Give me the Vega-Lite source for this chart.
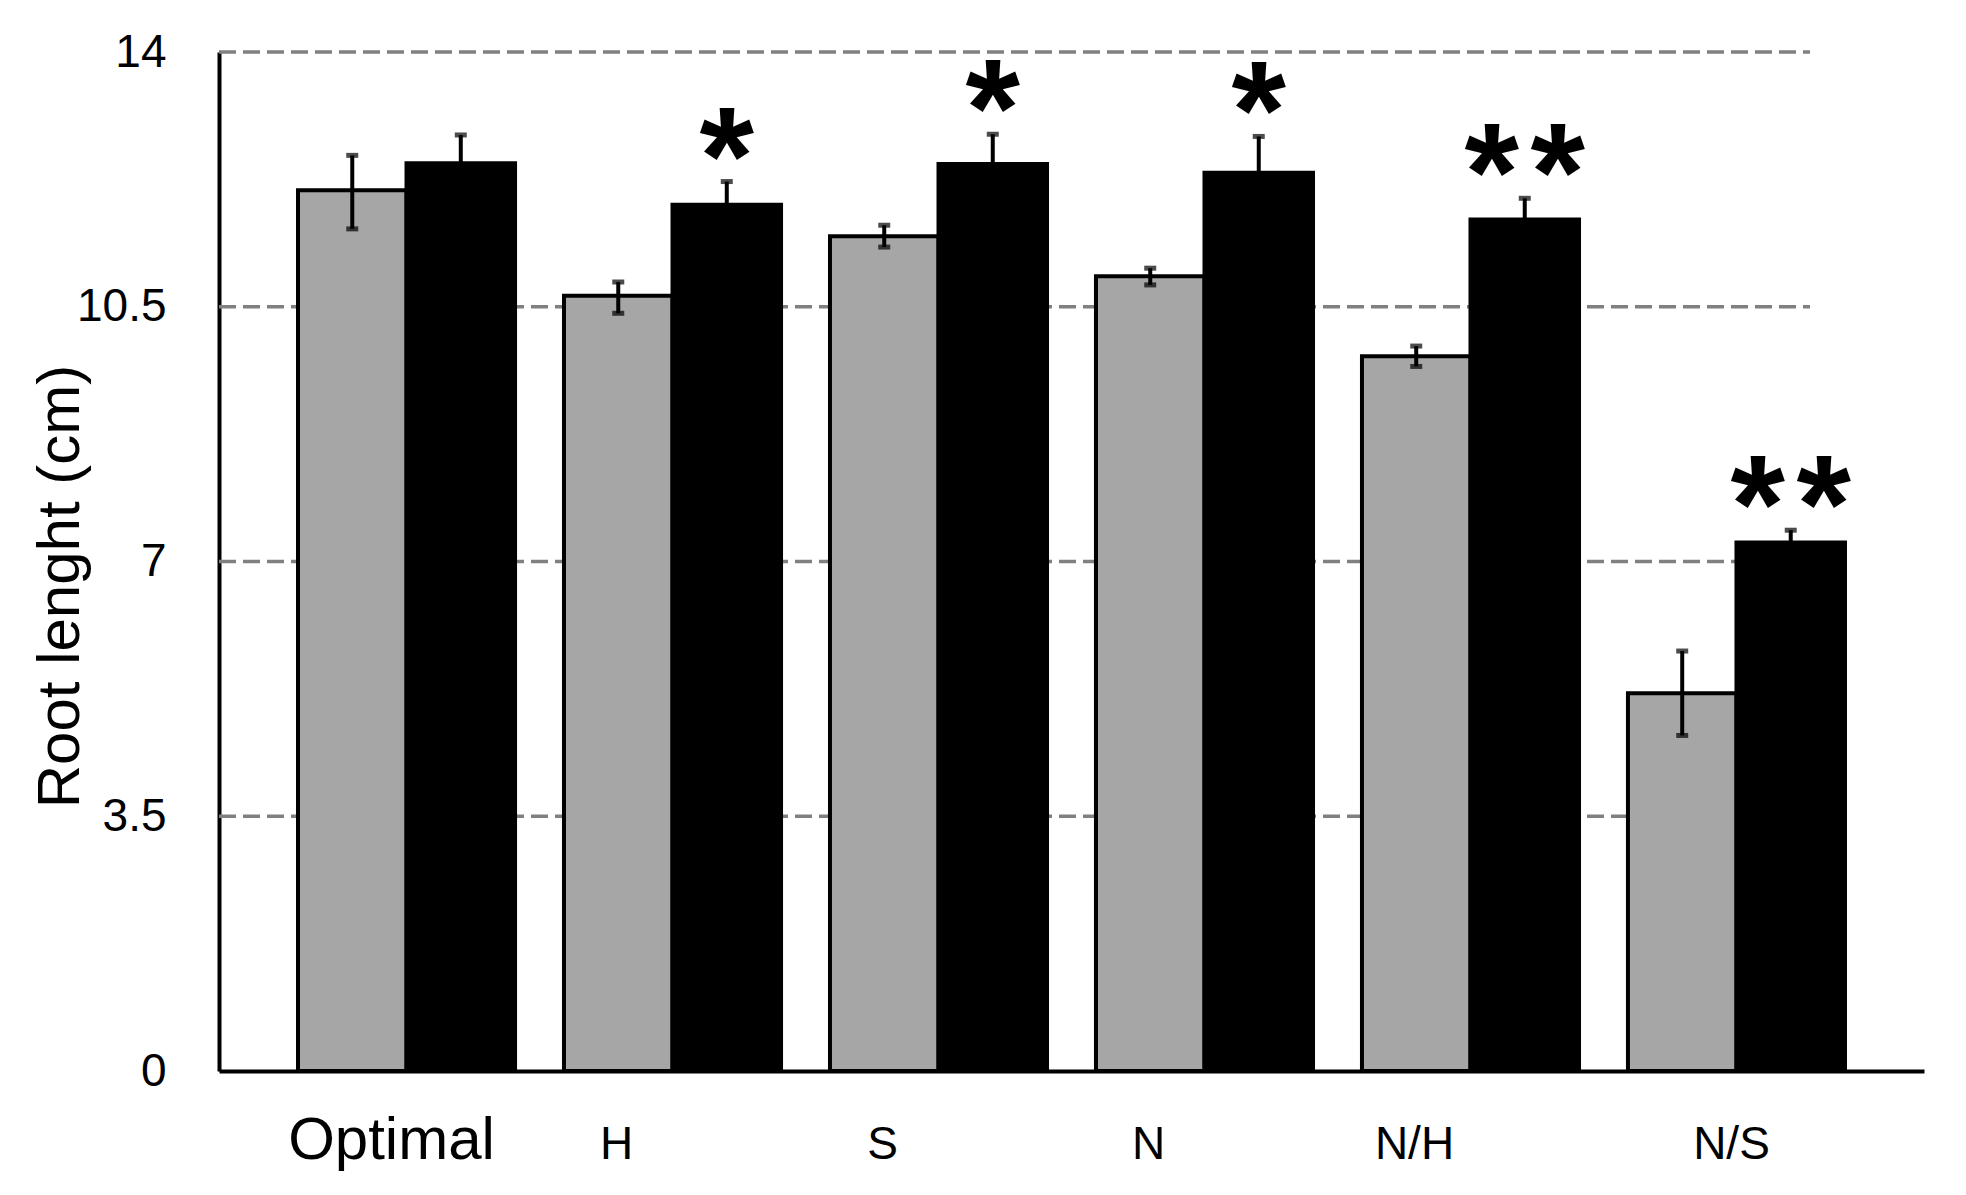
{
  "$schema": "https://vega.github.io/schema/vega-lite/v6.json",
  "autosize": "none",
  "width": 1705,
  "height": 1019,
  "padding": {"left": 219, "top": 52, "right": 42, "bottom": 124},
  "background": "white",
  "config": {"view": {"stroke": null}, "font": "Liberation Sans"},
  "data": {"values": [
    {"group": "Optimal", "series": "a", "value": 12.1, "lo": 11.57, "hi": 12.58, "sig": ""},
    {"group": "Optimal", "series": "b", "value": 12.47, "lo": 12.08, "hi": 12.86, "sig": ""},
    {"group": "H", "series": "a", "value": 10.65, "lo": 10.41, "hi": 10.84, "sig": ""},
    {"group": "H", "series": "b", "value": 11.9, "lo": 11.6, "hi": 12.22, "sig": "*"},
    {"group": "S", "series": "a", "value": 11.47, "lo": 11.32, "hi": 11.62, "sig": ""},
    {"group": "S", "series": "b", "value": 12.46, "lo": 12.05, "hi": 12.87, "sig": "*"},
    {"group": "N", "series": "a", "value": 10.92, "lo": 10.8, "hi": 11.03, "sig": ""},
    {"group": "N", "series": "b", "value": 12.34, "lo": 11.84, "hi": 12.84, "sig": "*"},
    {"group": "N/H", "series": "a", "value": 9.82, "lo": 9.68, "hi": 9.96, "sig": ""},
    {"group": "N/H", "series": "b", "value": 11.7, "lo": 11.41, "hi": 11.99, "sig": "*\u200a*"},
    {"group": "N/S", "series": "a", "value": 5.19, "lo": 4.61, "hi": 5.77, "sig": ""},
    {"group": "N/S", "series": "b", "value": 7.26, "lo": 7.09, "hi": 7.43, "sig": "*\u200a*"}
  ]},
  "encoding": {
    "x": {
      "field": "group", "type": "nominal",
      "scale": {"domain": ["Optimal", "H", "S", "N", "N/H", "N/S"], "paddingInner": 0.184, "paddingOuter": 0.297},
      "axis": {
        "title": null, "labelAngle": 0, "ticks": false, "tickSize": 0,
        "domainColor": "black", "domainWidth": 4, "labelLimit": 0,
        "labelColor": "black", "labelFont": "Liberation Sans",
        "labelBaseline": "alphabetic", "labelPadding": 87,
        "labelFontSize": {"condition": {"test": "datum.value === 'Optimal'", "value": 60}, "value": 46},
        "labelOffset": {"condition": [
          {"test": "datum.value === 'Optimal'", "value": -15},
          {"test": "datum.value === 'N/S'", "value": -5}
        ], "value": -56}
      }
    }
  },
  "layer": [
    {
      "data": {"values": [{"g": 3.5}, {"g": 7}, {"g": 10.5}, {"g": 14}]},
      "mark": {"type": "rule", "color": "#808080", "strokeWidth": 3.5, "strokeDash": [17, 7]},
      "encoding": {
        "x": {"datum": "Optimal", "type": "nominal", "bandPosition": -0.364},
        "x2": {"datum": "N/S", "bandPosition": 0.839},
        "y": {"field": "g", "type": "quantitative"}
      }
    },
    {
      "mark": {"type": "bar", "stroke": "black", "strokeWidth": 4},
      "encoding": {
        "xOffset": {"field": "series", "type": "nominal", "scale": {"domain": ["a", "b"], "paddingInner": 0, "paddingOuter": 0}},
        "y": {
          "field": "value", "type": "quantitative",
          "scale": {"domain": [0, 14], "nice": false, "zero": true},
          "axis": {
            "values": [0, 3.5, 7, 10.5, 14], "format": "~g", "grid": false, "ticks": false, "tickSize": 0,
            "domainColor": "black", "domainWidth": 4,
            "labelColor": "black", "labelFont": "Liberation Sans", "labelFontSize": 46, "labelPadding": 53,
            "title": "Root lenght (cm)", "titleFont": "Liberation Sans", "titleFontSize": 60,
            "titleFontWeight": "normal", "titleColor": "black",
            "titleX": -141, "titleY": 534, "titleBaseline": "alphabetic", "titleAngle": -90, "titleAlign": "center"
          }
        },
        "color": {"field": "series", "type": "nominal", "scale": {"domain": ["a", "b"], "range": ["#a6a6a6", "#000000"]}, "legend": null}
      }
    },
    {
      "mark": {"type": "rule", "color": "black", "strokeWidth": 4},
      "encoding": {
        "xOffset": {"field": "series", "type": "nominal"},
        "y": {"field": "lo", "type": "quantitative"},
        "y2": {"field": "hi"}
      }
    },
    {
      "mark": {"type": "tick", "color": "black", "size": 12, "thickness": 5},
      "encoding": {
        "xOffset": {"field": "series", "type": "nominal"},
        "y": {"field": "hi", "type": "quantitative"}
      }
    },
    {
      "mark": {"type": "tick", "color": "black", "size": 12, "thickness": 5},
      "encoding": {
        "xOffset": {"field": "series", "type": "nominal"},
        "y": {"field": "lo", "type": "quantitative"}
      }
    },
    {
      "transform": [{"filter": "datum.sig !== ''"}],
      "mark": {"type": "text", "font": "Liberation Sans", "fontWeight": "bold", "fontSize": 140, "baseline": "alphabetic", "dy": 22, "color": "black"},
      "encoding": {
        "xOffset": {"field": "series", "type": "nominal"},
        "y": {"field": "hi", "type": "quantitative"},
        "text": {"field": "sig"}
      }
    }
  ]
}
